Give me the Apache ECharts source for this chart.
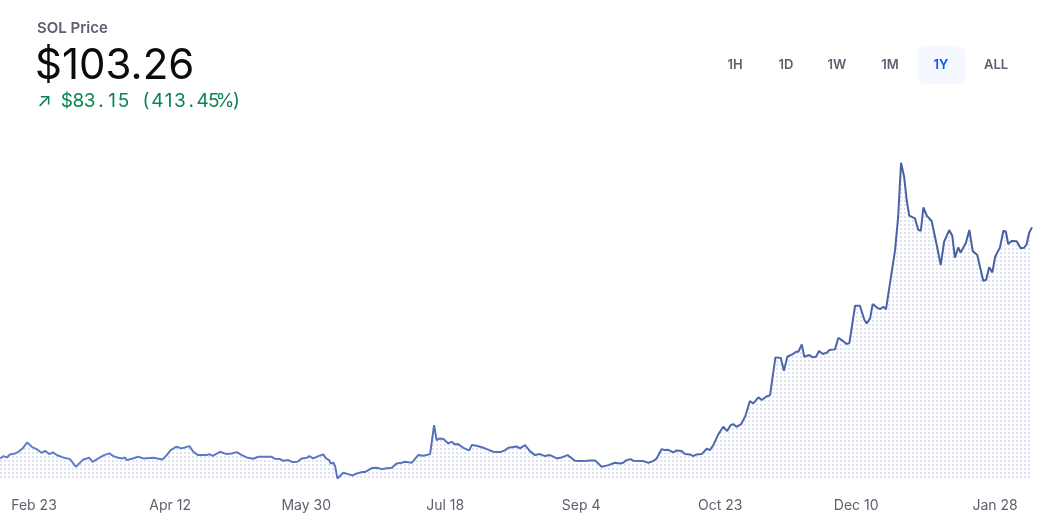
<!DOCTYPE html>
<html><head><meta charset="utf-8">
<script src="https://cdn.jsdelivr.net/npm/echarts@6/dist/echarts.min.js"></script>
<style>html,body{margin:0;padding:0;background:#fff}#chart{width:1054px;height:520px}</style>
</head><body><div id="chart"></div>
<script>
// ---- texts ----
const titleText = 'SOL Price';
const currentPrice = '$103.26';
const changeText = '\u2197 $83.15 (413.45%)';
const rangeButtons = ['1H', '1D', '1W', '1M', '1Y', 'ALL'];
const activeRange = '1Y';

// ---- x axis ticks (days since Feb 11, 2023) ----
const tickDays = [12, 60, 108, 157, 205, 254, 302, 351];
const tickLabels = ['Feb 23', 'Apr 12', 'May 30', 'Jul 18', 'Sep 4', 'Oct 23', 'Dec 10', 'Jan 28'];
const spanDays = 364;

// ---- series: day offset since Feb 11, 2023 and SOL price (USD) ----
const dayOffsets = [
  0,1.2,2.4,3.5,5.3,6.5,8.0,9.6,11.2,12.9,14.7,15.9,17.4,18.6,20.6,22.3,24.7,26.8,29.4,31.5,32.7,34.7,36.7,38.6,40.0,41.7,43.3,44.1,44.7,46.5,48.8,50.5,54.1,57.4,58.8,60.2,62.1,64.1,66.8,68.2,69.9,72.9,73.8,75.0,77.6,
  78.2,80.0,81.7,83.5,85.3,87.0,89.3,91.1,95.8,97.0,98.8,99.9,101.7,103.2,104.9,106.4,108.2,109.1,110.5,112.3,114.0,115.0,116.1,116.6,117.6,118.2,119.0,121.1,122.8,124.4,125.8,127.6,128.7,131.1,132.9,134.6,135.8,136.4,138.2,139.9,141.7,142.8,145.2,147.5,149.3,151.7,
  152.3,153.1,154.0,155.2,156.4,158.1,159.3,160.5,161.6,163.4,165.5,166.4,168.1,170.5,171.7,172.2,174.0,176.4,178.1,179.3,182.2,183.4,185.2,186.9,188.7,190.5,192.2,194.0,196.4,198.1,200.2,202.8,204.6,206.9,207.5,208.7,209.9,212.2,214.6,216.9,218.7,219.8,221.0,222.5,223.4,226.9,228.7,230.4,231.6,
  233.4,234.5,235.7,237.5,238.7,240.4,241.6,243.4,244.5,245.7,247.5,249.3,250.4,251.6,253.4,255.1,256.5,257.7,258.6,259.8,261.4,262.8,264.5,265.7,267.5,268.7,270.2,271.6,273.5,275.4,276.5,277.7,279.6,280.8,281.6,282.8,283.7,285.5,286.7,287.8,288.9,290.2,291.6,292.5,294.5,295.7,296.9,298.6,299.6,301.6,303.3,304.9,305.7,306.9,
  307.8,309.2,310.4,311.6,312.5,313.9,315.7,316.8,317.8,318.9,319.8,320.7,322.7,323.9,324.8,325.7,326.9,328.6,330.4,331.8,333.0,334.8,335.9,336.8,338.0,338.8,340.7,341.9,343.1,344.7,346.8,347.8,348.9,350.0,351.0,352.7,353.9,354.8,355.6,356.8,358.6,360.0,361.2,362.1,363.0,364
];
const prices = [
  20.11,20.94,20.47,21.55,21.91,22.49,23.71,25.87,24.29,23.46,22.13,22.85,21.66,22.27,21.05,20.47,19.86,17.09,19.75,20.33,18.89,20.11,21.30,21.91,20.94,20.33,20.11,20.47,19.50,19.97,20.69,20.11,20.33,19.75,21.30,23.10,24.29,23.71,24.54,22.49,21.30,21.30,21.66,21.05,22.49,
  22.85,21.66,21.91,22.38,21.30,20.47,19.97,20.69,20.69,19.97,19.86,19.25,19.50,18.78,18.89,20.11,20.33,20.94,20.11,20.94,21.55,20.11,19.50,18.31,18.53,17.34,12.91,14.93,14.46,13.99,14.71,15.18,15.18,16.62,16.73,16.26,16.51,15.90,16.73,18.31,18.53,18.89,18.53,21.30,21.05,21.66,
  21.66,32.10,26.70,27.31,27.06,25.51,26.09,25.15,25.26,23.93,22.99,24.90,24.65,23.93,23.46,23.71,22.49,22.38,22.99,23.93,24.43,23.71,24.90,22.74,21.30,21.66,20.94,21.30,20.11,20.47,21.30,19.25,19.14,19.25,19.86,19.39,19.39,17.09,17.70,18.53,18.31,18.53,19.50,19.86,19.25,19.14,18.53,19.14,20.11,
  23.46,23.10,23.21,22.27,22.99,22.74,21.66,21.55,20.94,21.55,21.66,23.57,23.10,24.90,28.86,31.49,29.94,32.10,32.46,31.49,32.46,35.09,40.74,39.91,42.07,41.10,42.29,42.90,56.47,56.22,51.65,56.69,57.66,58.49,58.49,61.15,56.69,57.30,56.47,56.69,58.74,57.66,58.13,59.10,59.35,63.53,62.70,61.26,61.73,75.05,75.05,69.90,68.71,70.51,
  75.66,74.47,73.86,74.69,73.75,83.11,95.10,107.09,126.53,121.49,113.10,107.45,106.51,102.30,102.05,110.47,107.45,105.54,96.90,89.70,98.09,102.30,100.14,92.33,96.07,94.13,97.73,102.30,94.74,93.30,84.05,84.30,88.87,87.07,92.69,96.07,102.05,101.69,97.26,98.34,98.23,95.71,95.93,97.15,101.33,103.26
];
const yMin = 12.7;
const yMax = 131.1;

// dotted fill pattern
const pat = document.createElement('canvas');
pat.width = 4; pat.height = 4;
const pctx = pat.getContext('2d');
pctx.fillStyle = '#dce2f1';
pctx.fillRect(0, 0, 2, 2);

const seriesData = dayOffsets.map((d, i) => [d, prices[i]]);

// change line drawn with fixed-width character cells (tabular look)
const changeRich = Array.from(changeText).map(ch => '{c|' + ch + '}').join('');

const btnX = [735, 786, 837, 890, 941, 996];
const graphics = [
  { type: 'text', left: 37, top: 21, style: { text: titleText, fill: '#5b616e', font: '600 15px Inter' } },
  { type: 'text', left: 35, top: 45, style: { text: currentPrice, fill: '#0a0b0d', font: '400 42px Inter' } },
  { type: 'text', left: 37, top: 92, style: {
      text: changeRich, fill: '#098551', font: '400 19px Inter',
      rich: { c: { width: 11.3, align: 'center', fontSize: 19, fontFamily: 'Inter', fill: '#098551', color: '#098551' } }
  } },
  { type: 'rect', shape: { x: 917, y: 46, width: 49, height: 38, r: 8 }, style: { fill: '#f5f8ff' } }
];
rangeButtons.forEach((b, i) => {
  graphics.push({
    type: 'text', x: btnX[i], y: 65,
    style: { text: b, fill: b === activeRange ? '#0052ff' : '#5b616e', font: '600 13px Inter', textAlign: 'center', textVerticalAlign: 'middle' }
  });
});

const chart = echarts.init(document.getElementById('chart'), null, { renderer: 'canvas' });
chart.setOption({
  animation: false,
  backgroundColor: '#ffffff',
  grid: { left: 0, right: 22, top: 150, bottom: 41 },
  xAxis: {
    type: 'value', min: 0, max: spanDays,
    axisLine: { show: false }, axisTick: { show: false }, splitLine: { show: false },
    axisLabel: {
      customValues: tickDays,
      formatter: v => tickLabels[tickDays.indexOf(v)] || '',
      color: '#5b616e', fontFamily: 'Inter', fontSize: 14, margin: 20
    }
  },
  yAxis: {
    type: 'value', min: yMin, max: yMax, show: false, splitLine: { show: false }
  },
  series: [{
    type: 'line', data: seriesData, showSymbol: false, smooth: false,
    lineStyle: {
      width: 2,
      color: new echarts.graphic.LinearGradient(0, 0, 1, 0, [
        { offset: 0, color: '#6180cc' },
        { offset: 1, color: '#475e9f' }
      ])
    },
    areaStyle: { origin: 'start', color: { image: pat, repeat: 'repeat' }, opacity: 1 }
  }],
  graphic: graphics
});
</script>
</body></html>
